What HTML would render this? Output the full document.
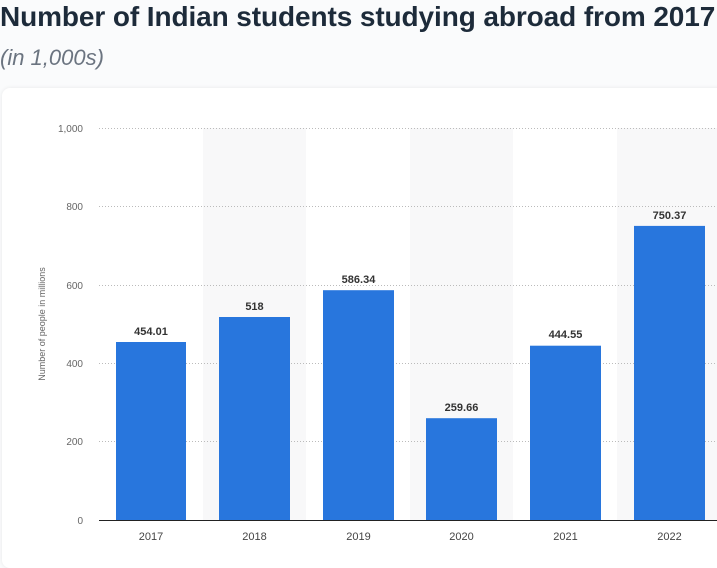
<!DOCTYPE html>
<html><head><style>
body{margin:0;width:717px;height:557px;overflow:hidden;background:#fafbfc;font-family:"Liberation Sans",sans-serif;position:relative}
.t{position:absolute;left:0;top:1px;font-size:28px;font-weight:bold;color:#1d2b3a;white-space:nowrap;letter-spacing:-0.1px}
.s{position:absolute;left:0;top:45px;font-size:22px;font-style:italic;color:#6b7480}
.card{position:absolute;left:2px;top:88px;width:730px;height:480px;background:#fff;border-radius:8px;box-shadow:0 0 4px rgba(0,0,0,.08)}
svg{position:absolute;left:0;top:0}
</style></head><body>
<div class="t">Number of Indian students studying abroad from 2017</div>
<div class="s">(in 1,000s)</div>
<div class="card"></div>
<svg width="717" height="557" font-family="Liberation Sans, sans-serif">
<rect x="203" y="128" width="103" height="392" fill="#f8f8f9"/>
<rect x="410" y="128" width="103" height="392" fill="#f8f8f9"/>
<rect x="617" y="128" width="100" height="392" fill="#f8f8f9"/>
<g stroke="#bbb" stroke-dasharray="1,2" stroke-width="1">
<line x1="99" x2="717" y1="128.5" y2="128.5"/>
<line x1="99" x2="717" y1="206.5" y2="206.5"/>
<line x1="99" x2="717" y1="285.5" y2="285.5"/>
<line x1="99" x2="717" y1="363.5" y2="363.5"/>
<line x1="99" x2="717" y1="441.5" y2="441.5"/>
</g>
<g font-size="10" fill="#666" text-anchor="end">
<text x="83" y="132">1,000</text><text x="83" y="210">800</text><text x="83" y="289">600</text>
<text x="83" y="367">400</text><text x="83" y="445">200</text><text x="83" y="524">0</text>
</g>
<text transform="translate(45,324) rotate(-90)" font-size="9" fill="#666" text-anchor="middle">Number of people in millions</text>
<g fill="#2876dd">
<rect x="116" y="342.0" width="70" height="178"/>
<rect x="219" y="317.0" width="71" height="203"/>
<rect x="323" y="290.2" width="71" height="229.8"/>
<rect x="426" y="418.2" width="71" height="101.8"/>
<rect x="530" y="345.7" width="71" height="174.3"/>
<rect x="634" y="225.9" width="71" height="294.1"/>
</g>
<line x1="99" x2="717" y1="520.5" y2="520.5" stroke="#222" stroke-width="1"/>
<g font-size="11" font-weight="bold" fill="#333" text-anchor="middle">
<text x="151" y="335">454.01</text><text x="254.5" y="310">518</text><text x="358.5" y="283">586.34</text>
<text x="461.5" y="411">259.66</text><text x="565.5" y="338">444.55</text><text x="669.5" y="219">750.37</text>
</g>
<g font-size="11" fill="#444" text-anchor="middle">
<text x="151" y="540">2017</text><text x="254.5" y="540">2018</text><text x="358.5" y="540">2019</text>
<text x="461.5" y="540">2020</text><text x="565.5" y="540">2021</text><text x="669.5" y="540">2022</text>
</g>
</svg>
</body></html>
